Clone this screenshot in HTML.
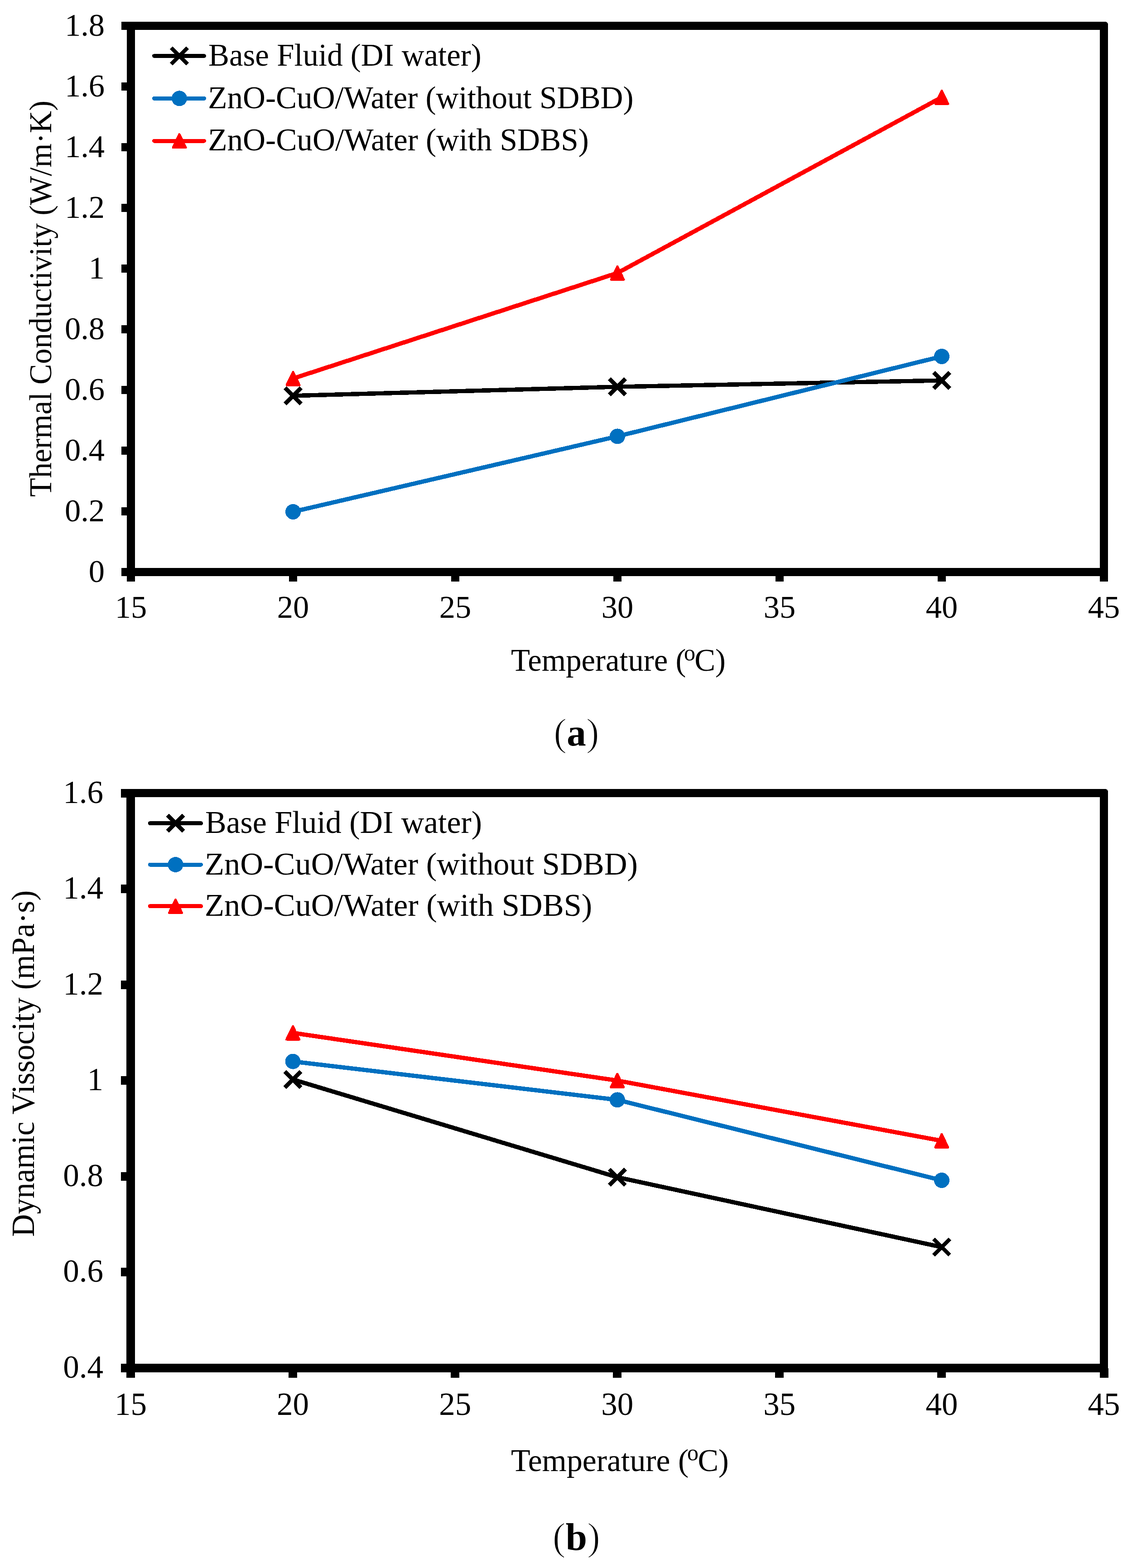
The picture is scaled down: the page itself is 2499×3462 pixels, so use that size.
<!DOCTYPE html>
<html><head><meta charset="utf-8"><title>Thermal conductivity and dynamic viscosity charts</title>
<style>
html,body{margin:0;padding:0;background:#fff;}
body{width:2499px;height:3462px;overflow:hidden;}
svg{display:block;}
</style></head><body>
<svg width="2499" height="3462" viewBox="0 0 2499 3462">
<rect width="2499" height="3462" fill="#fff"/>
<g fill="#000" shape-rendering="crispEdges">
<rect x="268.0" y="48.0" width="2178.0" height="18"/>
<rect x="268.0" y="1254.0" width="2178.0" height="18"/>
<rect x="280.0" y="48.0" width="18" height="1236.0"/>
<rect x="2428.0" y="48.0" width="18" height="1236.0"/>
<rect x="268.0" y="1254.0" width="21.0" height="18"/>
<rect x="268.0" y="1120.0" width="21.0" height="18"/>
<rect x="268.0" y="986.0" width="21.0" height="18"/>
<rect x="268.0" y="852.0" width="21.0" height="18"/>
<rect x="268.0" y="718.0" width="21.0" height="18"/>
<rect x="268.0" y="584.0" width="21.0" height="18"/>
<rect x="268.0" y="450.0" width="21.0" height="18"/>
<rect x="268.0" y="316.0" width="21.0" height="18"/>
<rect x="268.0" y="182.0" width="21.0" height="18"/>
<rect x="268.0" y="48.0" width="21.0" height="18"/>
<rect x="280.0" y="1263.0" width="18" height="21.0"/>
<rect x="638.0" y="1263.0" width="18" height="21.0"/>
<rect x="996.0" y="1263.0" width="18" height="21.0"/>
<rect x="1354.0" y="1263.0" width="18" height="21.0"/>
<rect x="1712.0" y="1263.0" width="18" height="21.0"/>
<rect x="2070.0" y="1263.0" width="18" height="21.0"/>
<rect x="2428.0" y="1263.0" width="18" height="21.0"/>
</g>
<path d="M2438.0,47.5 L2446.5,47.5 L2446.5,56.0 A8,8 0 0 0 2438.0,47.5 Z" fill="#fff"/>
<g font-family='"Liberation Serif", "Times New Roman", serif' font-size="70.5" fill="#000">
<text x="231" y="1284.5" text-anchor="end">0</text>
<text x="231" y="1150.5" text-anchor="end">0.2</text>
<text x="231" y="1016.5" text-anchor="end">0.4</text>
<text x="231" y="882.5" text-anchor="end">0.6</text>
<text x="231" y="748.5" text-anchor="end">0.8</text>
<text x="231" y="614.5" text-anchor="end">1</text>
<text x="231" y="480.5" text-anchor="end">1.2</text>
<text x="231" y="346.5" text-anchor="end">1.4</text>
<text x="231" y="212.5" text-anchor="end">1.6</text>
<text x="231" y="78.5" text-anchor="end">1.8</text>
<text x="289.0" y="1364" text-anchor="middle">15</text>
<text x="647.0" y="1364" text-anchor="middle">20</text>
<text x="1005.0" y="1364" text-anchor="middle">25</text>
<text x="1363.0" y="1364" text-anchor="middle">30</text>
<text x="1721.0" y="1364" text-anchor="middle">35</text>
<text x="2079.0" y="1364" text-anchor="middle">40</text>
<text x="2437.0" y="1364" text-anchor="middle">45</text>
<text x="1128.0" y="1481" font-size="69" textLength="386.3" lengthAdjust="spacingAndGlyphs" >Temperature (</text>
<text x="1510.0" y="1457.8" font-size="50">o</text>
<text x="1533.2" y="1481" font-size="69" textLength="68.7" lengthAdjust="spacingAndGlyphs" >C)</text>
<text transform="translate(112.8,1097) rotate(-90)" x="0" y="0" textLength="875" lengthAdjust="spacingAndGlyphs">Thermal Conductivity (W/m·K)</text>
</g>
<g shape-rendering="crispEdges">
<polyline points="647.0,873.8 1363.0,854.0 2079.0,840.0" fill="none" stroke="#000" stroke-width="9.5" stroke-linejoin="round" stroke-linecap="round"/>
<path d="M629.2,856.0L664.8,891.6M629.2,891.6L664.8,856.0" stroke="#000" stroke-width="9" fill="none" stroke-linecap="butt"/>
<path d="M1345.2,836.2L1380.8,871.8M1345.2,871.8L1380.8,836.2" stroke="#000" stroke-width="9" fill="none" stroke-linecap="butt"/>
<path d="M2061.2,822.2L2096.8,857.8M2061.2,857.8L2096.8,822.2" stroke="#000" stroke-width="9" fill="none" stroke-linecap="butt"/>
<polyline points="647.0,1129.9 1363.0,963.4 2079.0,786.9" fill="none" stroke="#0070C0" stroke-width="9.5" stroke-linejoin="round" stroke-linecap="round"/>
<circle cx="647.0" cy="1129.9" r="17" fill="#0070C0"/>
<circle cx="1363.0" cy="963.4" r="17" fill="#0070C0"/>
<circle cx="2079.0" cy="786.9" r="17" fill="#0070C0"/>
<polyline points="647.0,835.7 1363.0,602.8 2079.0,214.8" fill="none" stroke="#FF0000" stroke-width="9.5" stroke-linejoin="round" stroke-linecap="round"/>
<polygon points="647.0,821.2 661.0,850.2 633.0,850.2" fill="#FF0000" stroke="#FF0000" stroke-width="5" stroke-linejoin="round"/>
<polygon points="1363.0,588.3 1377.0,617.3 1349.0,617.3" fill="#FF0000" stroke="#FF0000" stroke-width="5" stroke-linejoin="round"/>
<polygon points="2079.0,200.3 2093.0,229.3 2065.0,229.3" fill="#FF0000" stroke="#FF0000" stroke-width="5" stroke-linejoin="round"/>
<line x1="340.5" y1="123.5" x2="450.5" y2="123.5" stroke="#000" stroke-width="9" stroke-linecap="round"/>
<path d="M378.2,105.7L413.8,141.3M378.2,141.3L413.8,105.7" stroke="#000" stroke-width="9" fill="none" stroke-linecap="butt"/>
<line x1="340.5" y1="217.3" x2="450.5" y2="217.3" stroke="#0070C0" stroke-width="9" stroke-linecap="round"/>
<circle cx="396.0" cy="217.3" r="17" fill="#0070C0"/>
<line x1="340.5" y1="311.1" x2="450.5" y2="311.1" stroke="#FF0000" stroke-width="9" stroke-linecap="round"/>
<polygon points="396.0,296.6 410.0,325.6 382.0,325.6" fill="#FF0000" stroke="#FF0000" stroke-width="5" stroke-linejoin="round"/>
<g font-family='"Liberation Serif", "Times New Roman", serif' fill="#000">
<text x="460.0" y="144.7" font-size="69" textLength="602.6" lengthAdjust="spacingAndGlyphs" >Base Fluid (DI water)</text>
<text x="459.2" y="238.5" font-size="69" textLength="939.4" lengthAdjust="spacingAndGlyphs" >ZnO-CuO/Water (without SDBD)</text>
<text x="459.2" y="332.3" font-size="69" textLength="840.6" lengthAdjust="spacingAndGlyphs" >ZnO-CuO/Water (with SDBS)</text>
</g>
<text x="1272.4" y="1646" text-anchor="middle" font-family='"Liberation Serif", "Times New Roman", serif' font-size="87" stroke="#fff" stroke-width="1.8">(<tspan font-weight="bold" stroke="none" font-size="85">a</tspan>)</text>
<g fill="#000" shape-rendering="crispEdges">
<rect x="267.0" y="1742.0" width="2179.0" height="18"/>
<rect x="267.0" y="3011.0" width="2179.0" height="19"/>
<rect x="279.0" y="1741.5" width="19" height="1300.5"/>
<rect x="2428.0" y="1742.0" width="18" height="1300.0"/>
<rect x="267.0" y="3011.0" width="21.5" height="19"/>
<rect x="267.0" y="2799.4" width="21.5" height="19"/>
<rect x="267.0" y="2587.8" width="21.5" height="19"/>
<rect x="267.0" y="2376.2" width="21.5" height="19"/>
<rect x="267.0" y="2164.7" width="21.5" height="19"/>
<rect x="267.0" y="1953.1" width="21.5" height="19"/>
<rect x="267.0" y="1741.5" width="21.5" height="19"/>
<rect x="279.0" y="3020.5" width="19" height="21.5"/>
<rect x="637.1" y="3020.5" width="19" height="21.5"/>
<rect x="995.2" y="3020.5" width="19" height="21.5"/>
<rect x="1353.2" y="3020.5" width="19" height="21.5"/>
<rect x="1711.3" y="3020.5" width="19" height="21.5"/>
<rect x="2069.4" y="3020.5" width="19" height="21.5"/>
<rect x="2427.5" y="3020.5" width="19" height="21.5"/>
</g>
<path d="M2438.0,1741.5 L2446.5,1741.5 L2446.5,1750.0 A8,8 0 0 0 2438.0,1741.5 Z" fill="#fff"/>
<g font-family='"Liberation Serif", "Times New Roman", serif' font-size="71" fill="#000">
<text x="228" y="3042.0" text-anchor="end">0.4</text>
<text x="228" y="2830.4" text-anchor="end">0.6</text>
<text x="228" y="2618.8" text-anchor="end">0.8</text>
<text x="228" y="2407.2" text-anchor="end">1</text>
<text x="228" y="2195.7" text-anchor="end">1.2</text>
<text x="228" y="1984.1" text-anchor="end">1.4</text>
<text x="228" y="1772.5" text-anchor="end">1.6</text>
<text x="288.5" y="3123.5" text-anchor="middle">15</text>
<text x="646.6" y="3123.5" text-anchor="middle">20</text>
<text x="1004.7" y="3123.5" text-anchor="middle">25</text>
<text x="1362.8" y="3123.5" text-anchor="middle">30</text>
<text x="1720.8" y="3123.5" text-anchor="middle">35</text>
<text x="2078.9" y="3123.5" text-anchor="middle">40</text>
<text x="2437.0" y="3123.5" text-anchor="middle">45</text>
<text x="1127.9" y="3248.3" font-size="70" textLength="392.3" lengthAdjust="spacingAndGlyphs" >Temperature (</text>
<text x="1516.9" y="3223.8" font-size="50">o</text>
<text x="1540.5" y="3248.3" font-size="70" textLength="68.2" lengthAdjust="spacingAndGlyphs" >C)</text>
<text transform="translate(74.8,2730.7) rotate(-90)" x="0" y="0" textLength="765" lengthAdjust="spacingAndGlyphs">Dynamic Vissocity (mPa·s)</text>
</g>
<g shape-rendering="crispEdges">
<polyline points="646.6,2383.4 1362.8,2599.2 2078.9,2753.5" fill="none" stroke="#000" stroke-width="9.5" stroke-linejoin="round" stroke-linecap="round"/>
<path d="M628.8,2365.6L664.4,2401.2M628.8,2401.2L664.4,2365.6" stroke="#000" stroke-width="9" fill="none" stroke-linecap="butt"/>
<path d="M1345.0,2581.4L1380.5,2617.0M1345.0,2617.0L1380.5,2581.4" stroke="#000" stroke-width="9" fill="none" stroke-linecap="butt"/>
<path d="M2061.1,2735.7L2096.7,2771.3M2061.1,2771.3L2096.7,2735.7" stroke="#000" stroke-width="9" fill="none" stroke-linecap="butt"/>
<polyline points="646.6,2343.6 1362.8,2428.4 2078.9,2606.0" fill="none" stroke="#0070C0" stroke-width="9.5" stroke-linejoin="round" stroke-linecap="round"/>
<circle cx="646.6" cy="2343.6" r="17" fill="#0070C0"/>
<circle cx="1362.8" cy="2428.4" r="17" fill="#0070C0"/>
<circle cx="2078.9" cy="2606.0" r="17" fill="#0070C0"/>
<polyline points="646.6,2280.5 1362.8,2385.8 2078.9,2518.8" fill="none" stroke="#FF0000" stroke-width="9.5" stroke-linejoin="round" stroke-linecap="round"/>
<polygon points="646.6,2266.0 660.6,2295.0 632.6,2295.0" fill="#FF0000" stroke="#FF0000" stroke-width="5" stroke-linejoin="round"/>
<polygon points="1362.8,2371.3 1376.8,2400.3 1348.8,2400.3" fill="#FF0000" stroke="#FF0000" stroke-width="5" stroke-linejoin="round"/>
<polygon points="2078.9,2504.3 2092.9,2533.3 2064.9,2533.3" fill="#FF0000" stroke="#FF0000" stroke-width="5" stroke-linejoin="round"/>
<line x1="331.2" y1="1817.8" x2="443.5" y2="1817.8" stroke="#000" stroke-width="9" stroke-linecap="round"/>
<path d="M369.7,1800.0L405.3,1835.6M369.7,1835.6L405.3,1800.0" stroke="#000" stroke-width="9" fill="none" stroke-linecap="butt"/>
<line x1="331.2" y1="1909.0" x2="443.5" y2="1909.0" stroke="#0070C0" stroke-width="9" stroke-linecap="round"/>
<circle cx="387.5" cy="1909.0" r="17" fill="#0070C0"/>
<line x1="331.2" y1="2000.8" x2="443.5" y2="2000.8" stroke="#FF0000" stroke-width="9" stroke-linecap="round"/>
<polygon points="387.5,1986.3 401.5,2015.3 373.5,2015.3" fill="#FF0000" stroke="#FF0000" stroke-width="5" stroke-linejoin="round"/>
<g font-family='"Liberation Serif", "Times New Roman", serif' fill="#000">
<text x="452.9" y="1839" font-size="70.3" textLength="611.2" lengthAdjust="spacingAndGlyphs" >Base Fluid (DI water)</text>
<text x="452.1" y="1930.7" font-size="70.3" textLength="955.9" lengthAdjust="spacingAndGlyphs" >ZnO-CuO/Water (without SDBD)</text>
<text x="452.1" y="2021.8" font-size="70.3" textLength="855.2" lengthAdjust="spacingAndGlyphs" >ZnO-CuO/Water (with SDBS)</text>
</g>
<text x="1272.4" y="3422" text-anchor="middle" font-family='"Liberation Serif", "Times New Roman", serif' font-size="87" stroke="#fff" stroke-width="1.8">(<tspan font-weight="bold" stroke="none" font-size="85">b</tspan>)</text>
</svg>
</body></html>
